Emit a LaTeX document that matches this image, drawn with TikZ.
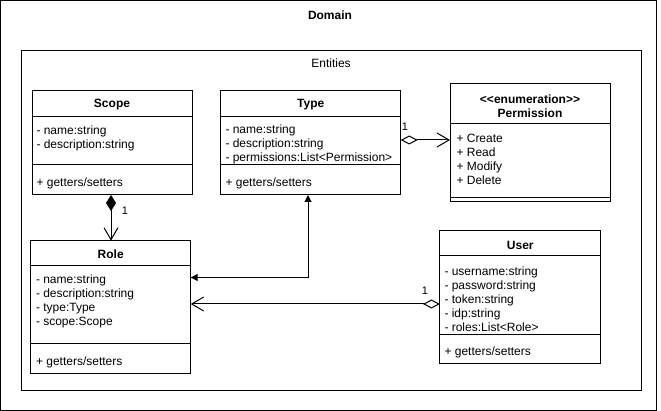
\documentclass[tikz,border=0pt]{standalone}
\usepackage{fontspec}
\setmainfont{Liberation Sans}
\usetikzlibrary{arrows.meta}
\begin{document}
\begin{tikzpicture}[x=1pt,y=-1pt,line width=1pt,
  box/.style={draw,line width=1pt,inner sep=0pt,outer sep=0pt},
  txt/.style={inner sep=0pt,align=left,anchor=west,font=\fontsize{12}{14}\selectfont},
  hdr/.style={inner sep=0pt,align=center,font=\fontsize{12}{14}\selectfont\bfseries},
  plain/.style={inner sep=0pt,font=\fontsize{12}{14}\selectfont},
  lbl/.style={inner sep=0pt,font=\fontsize{11}{13}\selectfont},
  aggr/.style={{Diamond[open,length=17pt,width=9pt]}-{Straight Barb[length=12pt,width=14pt]}},
  comp/.style={{Diamond[length=16pt,width=10pt]}-{Straight Barb[length=12pt,width=14pt]}},
  assoc/.style={{Triangle[length=7pt,width=7pt]}-{Triangle[length=7pt,width=7pt]}}
]
\useasboundingbox (0,0) rectangle (661,411);
% frames
\node[box,minimum width=656pt,minimum height=409.5pt,anchor=north west] (domain) at (0.5,0.5) {};
\node[hdr] (domainlbl) at (330,15.5) {Domain};
\node[box,minimum width=620pt,minimum height=339pt,anchor=north west] (entities) at (21,51) {};
\node[plain] (entitieslbl) at (331,63.5) {Entities};

% Scope
\node[box,minimum width=160pt,minimum height=104pt] (scope) at (112,143) {};
\node[hdr] (scopeh) at (112,105) {Scope};
\draw (32,117) -- (192,117);
\draw (32,165) -- (192,165);
\node[txt] (scopea) at (36,138.5) {- name:string\\- description:string};
\node[txt] (scopem) at (36,183.5) {+ getters/setters};

% Type
\node[box,minimum width=180pt,minimum height=104pt] (type) at (310.7,143) {};
\node[hdr] (typeh) at (310.7,105) {Type};
\draw (220.7,117) -- (400.7,117);
\draw (220.7,165) -- (400.7,165);
\node[txt] (typea) at (225,144.8) {- name:string\\- description:string\\- permissions:List\textless Permission\textgreater};
\node[txt] (typem) at (225,183.5) {+ getters/setters};

% Permission
\node[box,minimum width=160pt,minimum height=118pt] (perm) at (530,143) {};
\node[hdr] (permh) at (530,106) {\textless\kern0pt\textless enumeration\textgreater\kern0pt\textgreater\\Permission};
\draw (450,124) -- (610,124);
\draw (450,198) -- (610,198);
\node[txt] (perma) at (456,159.3) {+ Create\\+ Read\\+ Modify\\+ Delete};

% Role
\node[box,minimum width=160pt,minimum height=133.3pt] (role) at (110.7,307.3) {};
\node[hdr] (roleh) at (110.7,254) {Role};
\draw (30.7,266) -- (190.7,266);
\draw (30.7,344) -- (190.7,344);
\node[txt] (rolea) at (35.5,301.3) {- name:string\\- description:string\\- type:Type\\- scope:Scope};
\node[txt] (rolem) at (35.5,362.8) {+ getters/setters};

% User
\node[box,minimum width=160.7pt,minimum height=133.3pt] (user) at (520.3,297.3) {};
\node[hdr] (userh) at (520.3,245) {User};
\draw (440,256) -- (600.7,256);
\draw (440,335) -- (600.7,335);
\node[txt] (usera) at (444,299.2) {- username:string\\- password:string\\- token:string\\- idp:string\\- roles:List\textless Role\textgreater};
\node[txt] (userm) at (444,352.2) {+ getters/setters};

% connectors
\coordinate (x111) at (111,0);
\coordinate (x308) at (308,0);
\coordinate (y140) at (0,140);
\coordinate (y277) at (0,277.5);
\coordinate (y304) at (0,304);

\draw[comp] (scope.south -| x111) -- (role.north -| x111);
\node[lbl] (l1) at (125,211) {1};

\draw[assoc] (role.east |- y277) -| (type.south -| x308);

\draw[aggr] (type.east |- y140) -- (perm.west |- y140);
\node[lbl] (l2) at (405,127) {1};

\draw[aggr] (user.west |- y304) -- (role.east |- y304);
\node[lbl] (l3) at (425,291) {1};
\end{tikzpicture}
\end{document}
